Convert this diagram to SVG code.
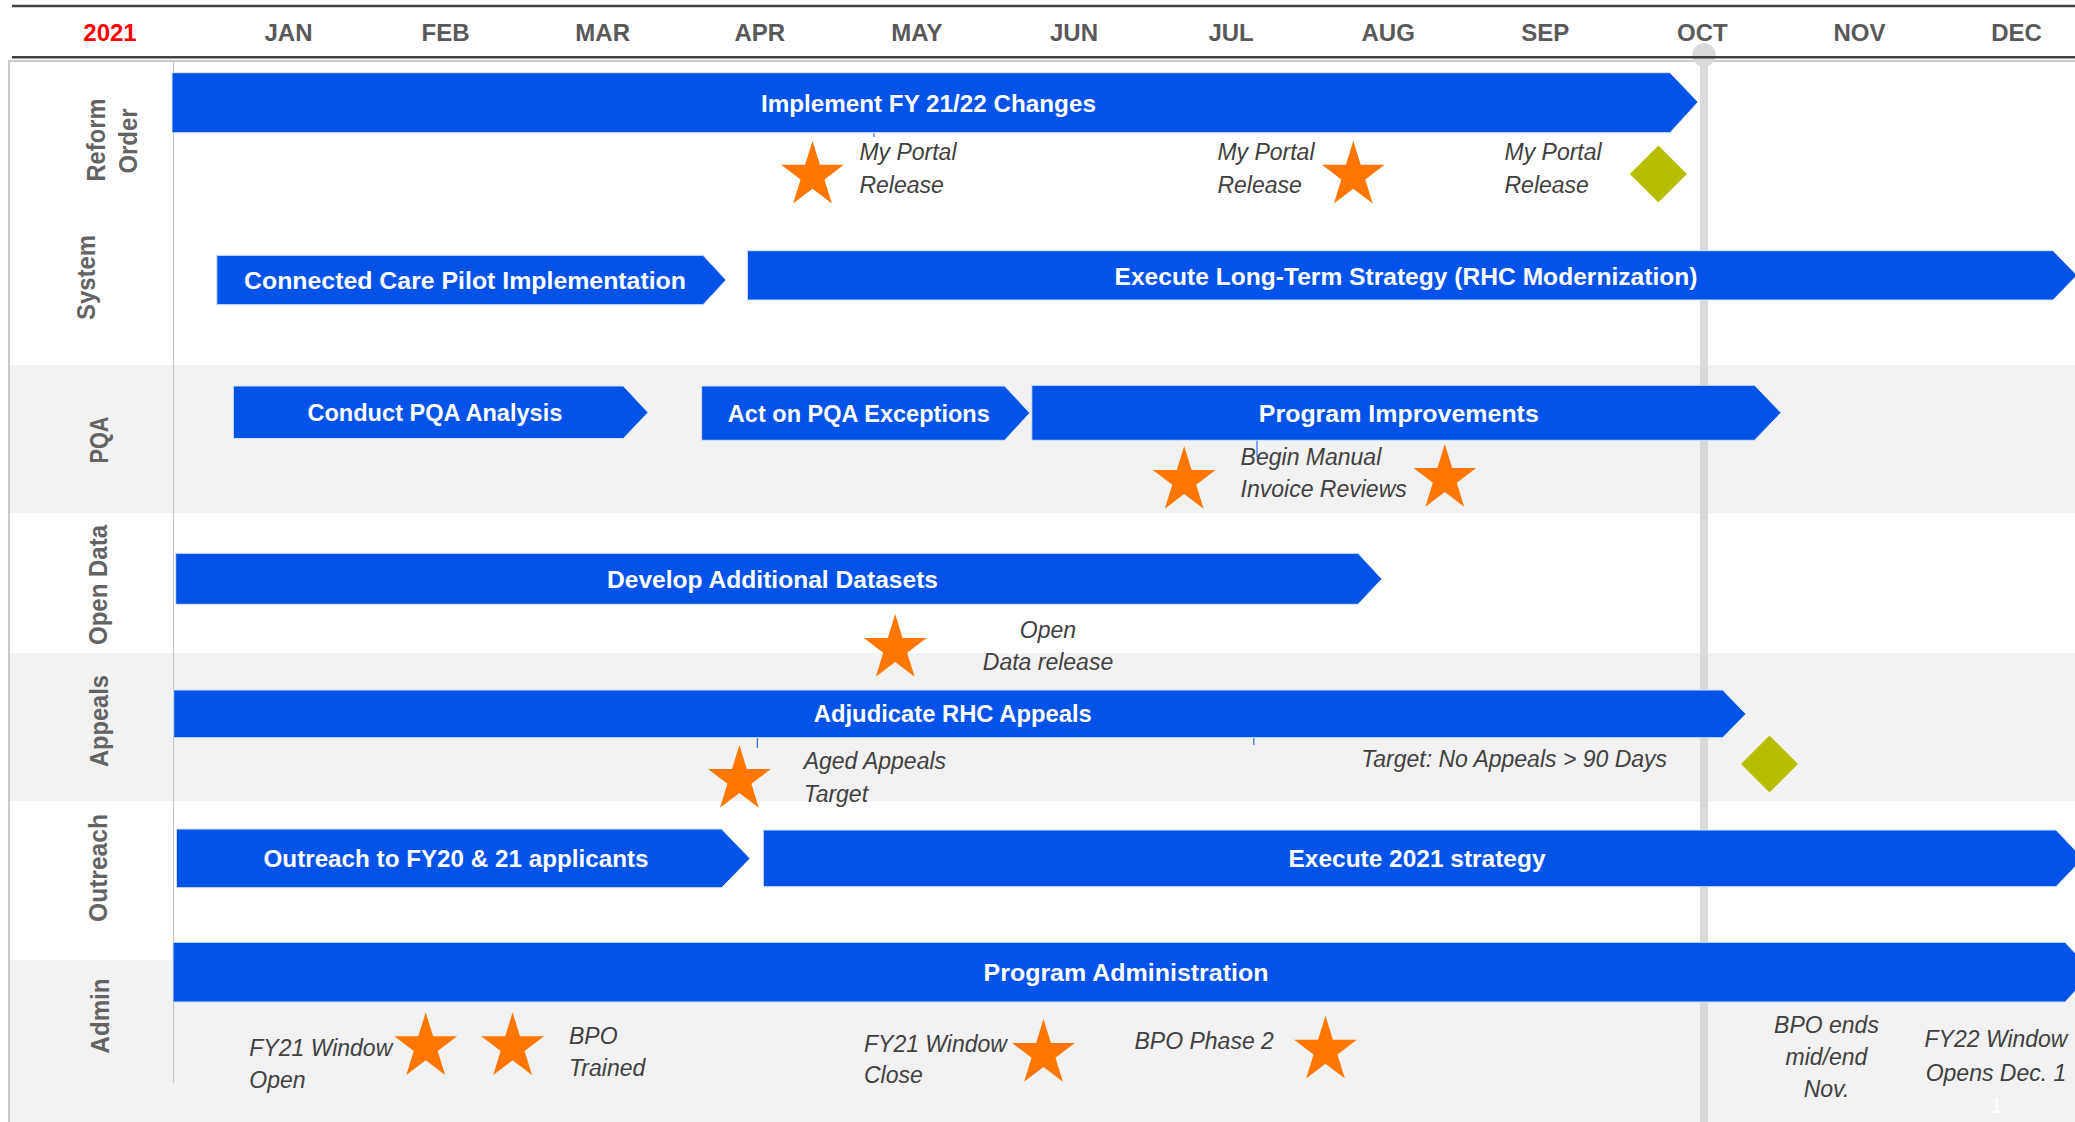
<svg xmlns="http://www.w3.org/2000/svg" xmlns:xlink="http://www.w3.org/1999/xlink" width="2075" height="1122" viewBox="0 0 2075 1122">
  <style>
    .month { font-family: "Liberation Sans", Arial, sans-serif; font-weight: bold; font-size: 24px; fill: #595959; text-anchor: middle; }
    .year { fill: #ff0000; }
    .lane { font-family: "Liberation Sans", Arial, sans-serif; font-weight: bold; font-size: 25px; fill: #636363; text-anchor: middle; }
    .bar { fill: #0353e9; stroke: #d4e3ee; stroke-width: 1; }
    .bar-label { font-family: "Liberation Sans", Arial, sans-serif; font-weight: bold; font-size: 24px; fill: #ffffff; text-anchor: middle; }
    .note { font-family: "Liberation Sans", Arial, sans-serif; font-style: italic; font-size: 23px; fill: #404040; }
    .mid { text-anchor: middle; }
    .star { fill: #ff7700; }
    .diamond { fill: #b5be00; }
    .tick { stroke: #0353e9; stroke-width: 1; }
  </style>
  <defs>
    <path id="star" d="M0,-34.65 L7.41,-10.7 L31.38,-10.71 L11.98,4.08 L19.4,28.04 L0,13.23 L-19.4,28.04 L-11.98,4.08 L-31.38,-10.71 L-7.41,-10.7 Z"/>
    <path id="diamond" d="M0,-28.5 L28.5,0 L0,28.5 L-28.5,0 Z"/>
  </defs>

  <!-- swimlane backgrounds -->
  <rect x="0" y="0" width="2075" height="1122" fill="#ffffff"/>
  <g id="bands" fill="#f2f2f2">
    <rect x="10" y="365" width="2065" height="148"/>
    <rect x="10" y="653" width="2065" height="148"/>
    <rect x="10" y="960" width="2065" height="162"/>
  </g>

  <!-- frame and lane divider -->
  <path d="M9,1122 V61 H2075" fill="none" stroke="#c8c8c8" stroke-width="2"/>
  <line x1="173.5" y1="61" x2="173.5" y2="1083" stroke="#c0c0c0" stroke-width="1"/>

  <!-- today marker (October) -->
  <g id="today-marker" fill="#d9d9d9">
    <rect x="1700" y="55" width="8" height="1067"/>
    <circle cx="1704" cy="55" r="11.8"/>
  </g>

  <!-- timeline header -->
  <g id="header">
    <line x1="12" y1="6" x2="2075" y2="6" stroke="#404040" stroke-width="2.5"/>
    <line x1="12" y1="57.3" x2="2075" y2="57.3" stroke="#404040" stroke-width="2.5"/>
    <text class="month year" x="110" y="41">2021</text>
    <text class="month" x="288.5" y="41">JAN</text>
    <text class="month" x="445.6" y="41">FEB</text>
    <text class="month" x="602.7" y="41">MAR</text>
    <text class="month" x="759.8" y="41">APR</text>
    <text class="month" x="916.9" y="41">MAY</text>
    <text class="month" x="1074" y="41">JUN</text>
    <text class="month" x="1231.1" y="41">JUL</text>
    <text class="month" x="1388.2" y="41">AUG</text>
    <text class="month" x="1545.3" y="41">SEP</text>
    <text class="month" x="1702.4" y="41">OCT</text>
    <text class="month" x="1859.5" y="41">NOV</text>
    <text class="month" x="2016.6" y="41">DEC</text>
  </g>

  <!-- lane titles -->
  <g id="lane-titles">
    <text class="lane" transform="translate(105,140) rotate(-90)" textLength="83" lengthAdjust="spacingAndGlyphs">Reform</text>
    <text class="lane" transform="translate(137,141) rotate(-90)" textLength="65" lengthAdjust="spacingAndGlyphs">Order</text>
    <text class="lane" transform="translate(95,277.5) rotate(-90)" textLength="85" lengthAdjust="spacingAndGlyphs">System</text>
    <text class="lane" transform="translate(108,440) rotate(-90)" textLength="47" lengthAdjust="spacingAndGlyphs">PQA</text>
    <text class="lane" transform="translate(107,585) rotate(-90)" textLength="120" lengthAdjust="spacingAndGlyphs">Open Data</text>
    <text class="lane" transform="translate(108,721) rotate(-90)" textLength="92" lengthAdjust="spacingAndGlyphs">Appeals</text>
    <text class="lane" transform="translate(107,868) rotate(-90)" textLength="108" lengthAdjust="spacingAndGlyphs">Outreach</text>
    <text class="lane" transform="translate(109,1016) rotate(-90)" textLength="75" lengthAdjust="spacingAndGlyphs">Admin</text>
  </g>

  <!-- small guide ticks under bars -->
  <g id="ticks" class="tick">
    <line x1="874" y1="132" x2="874" y2="137"/>
    <line x1="1257" y1="440" x2="1257" y2="457"/>
    <line x1="757.3" y1="738" x2="757.3" y2="748"/>
    <line x1="1253.8" y1="738" x2="1253.8" y2="745"/>
  </g>

  <!-- activity bars -->
  <g id="bar-implement">
    <path class="bar" d="M172,72.7 H1670 L1698,102 L1670,132.7 H172 Z"/>
    <text class="bar-label" x="928.4" y="111.5" textLength="335" lengthAdjust="spacingAndGlyphs">Implement FY 21/22 Changes</text>
  </g>
  <g id="bar-connected-care">
    <path class="bar" d="M216.8,255.3 H703 L726,280 L703,304.7 H216.8 Z"/>
    <text class="bar-label" x="465" y="289" textLength="442" lengthAdjust="spacingAndGlyphs">Connected Care Pilot Implementation</text>
  </g>
  <g id="bar-long-term">
    <path class="bar" d="M747.4,250.7 H2053 L2077,275.3 L2053,300 H747.4 Z"/>
    <text class="bar-label" x="1406" y="284.5" textLength="583" lengthAdjust="spacingAndGlyphs">Execute Long-Term Strategy (RHC Modernization)</text>
  </g>
  <g id="bar-pqa-analysis">
    <path class="bar" d="M233.4,386 H623.3 L648,412.5 L623.3,438.5 H233.4 Z"/>
    <text class="bar-label" x="434.9" y="421" textLength="255" lengthAdjust="spacingAndGlyphs">Conduct PQA Analysis</text>
  </g>
  <g id="bar-pqa-exceptions">
    <path class="bar" d="M701.6,386 H1004.6 L1029.8,413 L1004.6,440.3 H701.6 Z"/>
    <text class="bar-label" x="858.8" y="421.7" textLength="262" lengthAdjust="spacingAndGlyphs">Act on PQA Exceptions</text>
  </g>
  <g id="bar-program-improvements">
    <path class="bar" d="M1031.8,385.3 H1754.5 L1781,412.7 L1754.5,440.3 H1031.8 Z"/>
    <text class="bar-label" x="1398.8" y="421.7" textLength="280" lengthAdjust="spacingAndGlyphs">Program Improvements</text>
  </g>
  <g id="bar-datasets">
    <path class="bar" d="M175.7,553.3 H1358 L1381.8,579 L1358,604.3 H175.7 Z"/>
    <text class="bar-label" x="772.5" y="587.7" textLength="331" lengthAdjust="spacingAndGlyphs">Develop Additional Datasets</text>
  </g>
  <g id="bar-appeals">
    <path class="bar" d="M173.7,690 H1722.7 L1745.9,714 L1722.7,737.7 H173.7 Z"/>
    <text class="bar-label" x="952.8" y="722.3" textLength="278" lengthAdjust="spacingAndGlyphs">Adjudicate RHC Appeals</text>
  </g>
  <g id="bar-outreach">
    <path class="bar" d="M176.4,829 H721.5 L750,858.5 L721.5,887.7 H176.4 Z"/>
    <text class="bar-label" x="456" y="866.8" textLength="385" lengthAdjust="spacingAndGlyphs">Outreach to FY20 &amp; 21 applicants</text>
  </g>
  <g id="bar-strategy-2021">
    <path class="bar" d="M763.3,830 H2056 L2083,858.5 L2056,886.7 H763.3 Z"/>
    <text class="bar-label" x="1417" y="866.8" textLength="257" lengthAdjust="spacingAndGlyphs">Execute 2021 strategy</text>
  </g>
  <g id="bar-administration">
    <path class="bar" d="M173,942.3 H2065 L2093,972 L2065,1002 H173 Z"/>
    <text class="bar-label" x="1126" y="981" textLength="285" lengthAdjust="spacingAndGlyphs">Program Administration</text>
  </g>

  <!-- milestones -->
  <g id="milestones">
    <use xlink:href="#star" class="star" x="812.5" y="175.4"/>
    <use xlink:href="#star" class="star" x="1353.3" y="175.4"/>
    <use xlink:href="#diamond" class="diamond" x="1658.4" y="174"/>
    <use xlink:href="#star" class="star" x="1184.2" y="480.7"/>
    <use xlink:href="#star" class="star" x="1444.8" y="478.7"/>
    <use xlink:href="#star" class="star" x="895.2" y="648.7"/>
    <use xlink:href="#star" class="star" x="739.4" y="779.7"/>
    <use xlink:href="#diamond" class="diamond" x="1769.5" y="764"/>
    <use xlink:href="#star" class="star" x="425.7" y="1047"/>
    <use xlink:href="#star" class="star" x="512.6" y="1047"/>
    <use xlink:href="#star" class="star" x="1043.5" y="1053.7"/>
    <use xlink:href="#star" class="star" x="1325.5" y="1050.4"/>
  </g>

  <!-- milestone notes -->
  <g id="notes">
    <text class="note" x="859.4" y="160">My Portal</text>
    <text class="note" x="859.4" y="193">Release</text>
    <text class="note" x="1217.4" y="160">My Portal</text>
    <text class="note" x="1217.4" y="193">Release</text>
    <text class="note" x="1504.5" y="160">My Portal</text>
    <text class="note" x="1504.5" y="193">Release</text>
    <text class="note" x="1240.6" y="465">Begin Manual</text>
    <text class="note" x="1240.6" y="496.7">Invoice Reviews</text>
    <text class="note mid" x="1048" y="638.3">Open</text>
    <text class="note mid" x="1048" y="670">Data release</text>
    <text class="note" x="803.7" y="769">Aged Appeals</text>
    <text class="note" x="803.7" y="801.5">Target</text>
    <text class="note" x="1361.3" y="767.3">Target: No Appeals &gt; 90 Days</text>
    <text class="note" x="249.3" y="1055.7">FY21 Window</text>
    <text class="note" x="249.3" y="1087.7">Open</text>
    <text class="note" x="569" y="1044.3">BPO</text>
    <text class="note" x="569" y="1076">Trained</text>
    <text class="note" x="864" y="1051.7">FY21 Window</text>
    <text class="note" x="864" y="1083.3">Close</text>
    <text class="note" x="1134.5" y="1049.3">BPO Phase 2</text>
    <text class="note mid" x="1826.5" y="1032.7">BPO ends</text>
    <text class="note mid" x="1826.5" y="1065">mid/end</text>
    <text class="note mid" x="1826.5" y="1096.7">Nov.</text>
    <text class="note mid" x="1996" y="1047.3">FY22 Window</text>
    <text class="note mid" x="1996" y="1080.7">Opens Dec. 1</text>
  </g>

  <!-- page number -->
  <text x="1996.7" y="1112.7" font-family="Liberation Sans, Arial, sans-serif" font-size="22" fill="#ffffff" text-anchor="middle">1</text>
</svg>
